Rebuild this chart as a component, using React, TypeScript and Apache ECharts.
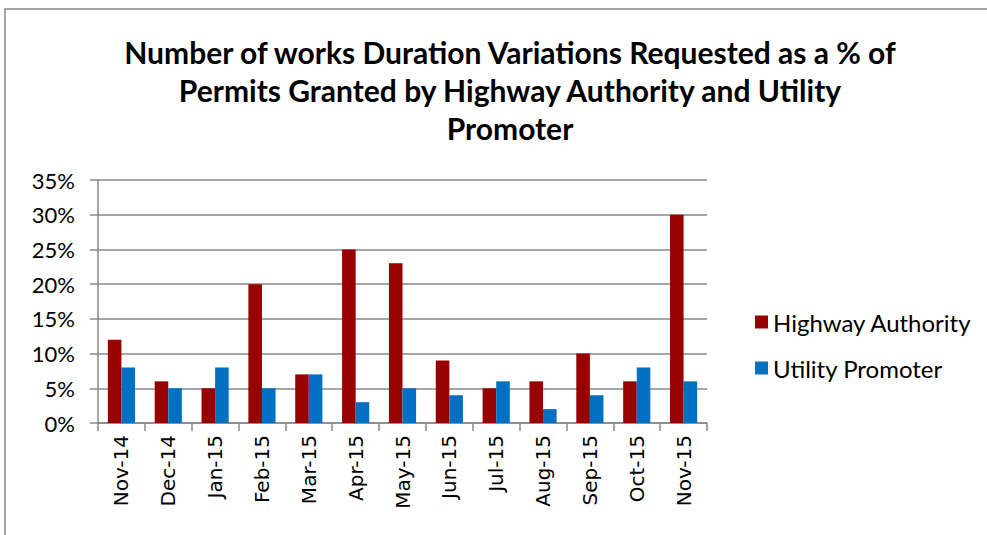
import React, { useEffect, useRef } from "react";
import * as echarts from "echarts";

const categories = ["Nov-14", "Dec-14", "Jan-15", "Feb-15", "Mar-15", "Apr-15", "May-15", "Jun-15", "Jul-15", "Aug-15", "Sep-15", "Oct-15", "Nov-15"];
const highwayAuthority = [12, 6, 5, 20, 7, 25, 23, 9, 5, 6, 10, 6, 30];
const utilityPromoter = [8, 5, 8, 5, 7, 3, 5, 4, 6, 2, 4, 8, 6];
const titleText = "Number of works Duration Variations Requested as a % of\nPermits Granted by Highway Authority and Utility\nPromoter";

export default function App() {
  const ref = useRef<HTMLDivElement>(null);
  useEffect(() => {
    document.body.style.margin = "0";
    const chart = echarts.init(ref.current!, null, { renderer: "svg" });
    chart.setOption({
      animation: false,
      backgroundColor: "#fff",
      title: {
        text: titleText,
        left: 505,
        textAlign: "center",
        top: 28,
        textStyle: { fontFamily: "Lato", fontWeight: "bold", fontSize: 30, lineHeight: 38, color: "#000" },
      },
      graphic: [
        { type: "rect", shape: { x: 5, y: 9, width: 1000, height: 540 }, style: { fill: "none", stroke: "#888", lineWidth: 1.5 }, z: -1 },
      ],
      legend: {
        orient: "vertical",
        left: 750,
        top: 305,
        itemWidth: 13,
        itemHeight: 13,
        itemGap: 22,
        icon: "rect",
        textStyle: { fontFamily: "Lato", fontSize: 24, color: "#000" },
        data: ["Highway Authority", "Utility Promoter"],
      },
      grid: { left: 98, right: 280, top: 180, bottom: 112 },
      xAxis: {
        type: "category",
        data: categories,
        axisLine: { lineStyle: { color: "#888", width: 1.5 } },
        axisTick: { show: true, length: 8, lineStyle: { color: "#888", width: 1.5 } },
        axisLabel: { rotate: 90, fontFamily: "DejaVu Sans", fontSize: 20, color: "#000", margin: 12, interval: 0 },
      },
      yAxis: {
        type: "value",
        min: 0,
        max: 35,
        interval: 5,
        axisLine: { show: true, lineStyle: { color: "#888", width: 1.5 } },
        axisTick: { show: true, length: 8, lineStyle: { color: "#888", width: 1.5 } },
        splitLine: { lineStyle: { color: "#888", width: 1.5 } },
        axisLabel: { formatter: "{value}%", fontFamily: "Lato", fontSize: 22, color: "#000", margin: 23 },
      },
      series: [
        { name: "Highway Authority", type: "bar", data: highwayAuthority, itemStyle: { color: "#990000" }, barGap: "0%", barCategoryGap: "42%" },
        { name: "Utility Promoter", type: "bar", data: utilityPromoter, itemStyle: { color: "#0070C0" }, barGap: "0%", barCategoryGap: "42%" },
      ],
    });
    return () => chart.dispose();
  }, []);
  return <div ref={ref} style={{ width: 987, height: 535 }} />;
}
